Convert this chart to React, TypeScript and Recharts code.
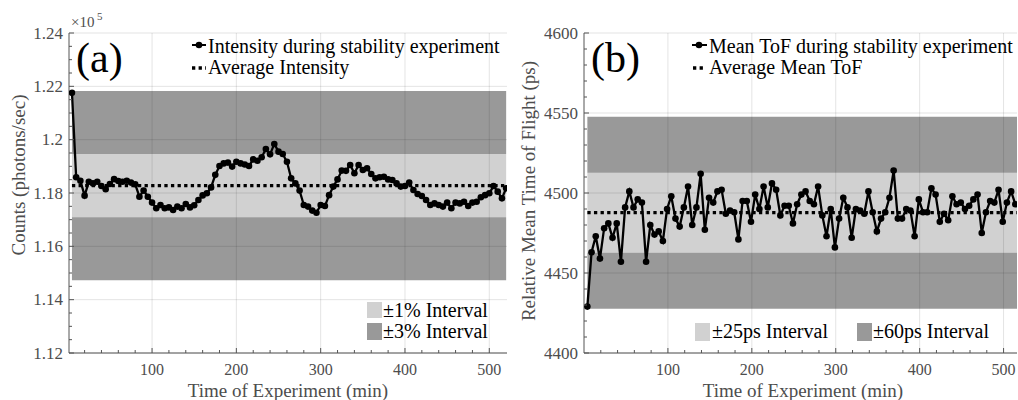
import React from 'react'
import { LineChart, Line, XAxis, YAxis, CartesianGrid, ReferenceArea, ReferenceLine } from 'recharts'

const SERIF = 'Liberation Serif, DejaVu Serif, serif'
const AXIS = '#555'
const LABEL = '#4d4d4d'
const DARK_BAND = 0.4
const LIGHT_BAND = 0.18

// (a) intensity, counts per second, one sample every 5 min
const intensityMinutes = [
  5, 10, 15, 20, 25, 30, 35, 40, 45, 50, 55, 60, 65, 70, 75, 80, 85, 90, 95, 100,
  105, 110, 115, 120, 125, 130, 135, 140, 145, 150, 155, 160, 165, 170, 175, 180, 185, 190, 195, 200,
  205, 210, 215, 220, 225, 230, 235, 240, 245, 250, 255, 260, 265, 270, 275, 280, 285, 290, 295, 300,
  305, 310, 315, 320, 325, 330, 335, 340, 345, 350, 355, 360, 365, 370, 375, 380, 385, 390, 395, 400,
  405, 410, 415, 420, 425, 430, 435, 440, 445, 450, 455, 460, 465, 470, 475, 480, 485, 490, 495, 500,
  505, 510, 515, 520,
]
const intensityCounts = [
  121760, 118590, 118460, 117900, 118420, 118360, 118420, 118260, 118140, 118340,
  118520, 118450, 118420, 118460, 118390, 118330, 117860, 118090, 117860, 117640,
  117430, 117550, 117430, 117460, 117360, 117490, 117430, 117590, 117460, 117540,
  117740, 117910, 117990, 118210, 118680, 119010, 119110, 119140, 118990, 119170,
  119110, 119070, 119010, 119260, 119210, 119340, 119650, 119450, 119840, 119550,
  119460, 119170, 118550, 118360, 118090, 117550, 117490, 117340, 117260, 117550,
  117510, 117920, 118240, 118510, 118840, 118830, 119050, 118740, 119050, 118860,
  118930, 118710, 118550, 118590, 118610, 118510, 118490, 118360, 118240, 118260,
  118390, 118110, 117960, 117890, 117740, 117550, 117610, 117550, 117490, 117640,
  117430, 117640, 117610, 117670, 117510, 117640, 117670, 117840, 117920, 117990,
  118260, 118050, 117800, 118180,
]
const intensityAverage = 118275
const intensityOnePct = [117092, 119458]
const intensityThreePct = [114727, 121823]

// (b) mean time of flight, ps
const tofMinutes = [
  4, 9, 14, 19, 24, 29, 34, 39, 44, 49, 54, 59, 64, 69, 74, 79, 84, 89, 94, 99,
  104, 109, 114, 119, 124, 129, 134, 139, 144, 149, 154, 159, 164, 169, 174, 179, 184, 189, 194, 199,
  204, 209, 214, 219, 224, 229, 234, 239, 244, 249, 254, 259, 264, 269, 274, 279, 284, 289, 294, 299,
  304, 309, 314, 319, 324, 329, 334, 339, 344, 349, 354, 359, 364, 369, 374, 379, 384, 389, 394, 399,
  404, 409, 414, 419, 424, 429, 434, 439, 444, 449, 454, 459, 464, 469, 474, 479, 484, 489, 494, 499,
  504, 509, 514,
]
const tofValues = [
  4429, 4463, 4473, 4459, 4478, 4481, 4472, 4481, 4457, 4491,
  4501, 4491, 4496, 4494, 4457, 4480, 4474, 4476, 4470, 4490,
  4498, 4484, 4479, 4491, 4504, 4480, 4491, 4512, 4477, 4497,
  4494, 4501, 4502, 4487, 4489, 4488, 4471, 4495, 4495, 4482,
  4499, 4490, 4504, 4491, 4506, 4502, 4486, 4492, 4492, 4481,
  4493, 4499, 4501, 4495, 4493, 4504, 4486, 4473, 4490, 4466,
  4484, 4497, 4491, 4472, 4490, 4489, 4487, 4501, 4488, 4476,
  4484, 4488, 4497, 4514, 4484, 4484, 4490, 4489, 4473, 4496,
  4488, 4488, 4503, 4499, 4482, 4487, 4483, 4498, 4493, 4494,
  4490, 4492, 4496, 4499, 4475, 4488, 4495, 4494, 4502, 4482,
  4494, 4501, 4493,
]
const tofAverage = 4487.7
const tof25 = [4462.7, 4512.7]
const tof60 = [4427.7, 4547.7]

// axis ticks
const timeTicks = [20, 40, 60, 80, 100, 120, 140, 160, 180, 200, 220, 240, 260, 280, 300, 320, 340, 360, 380, 400, 420, 440, 460, 480, 500]
const timeMajor = [100, 200, 300, 400, 500]
const countTicks = [
  112000, 112500, 113000, 113500, 114000, 114500, 115000, 115500, 116000, 116500, 117000, 117500, 118000,
  118500, 119000, 119500, 120000, 120500, 121000, 121500, 122000, 122500, 123000, 123500, 124000,
]
const countMajor = [112000, 114000, 116000, 118000, 120000, 122000, 124000]
const tofTicks = [
  4400, 4410, 4420, 4430, 4440, 4450, 4460, 4470, 4480, 4490, 4500,
  4510, 4520, 4530, 4540, 4550, 4560, 4570, 4580, 4590, 4600,
]
const tofMajor = [4400, 4450, 4500, 4550, 4600]

const intensityData = intensityMinutes.map((t, i) => ({ t, v: intensityCounts[i] }))
const tofData = tofMinutes.map((t, i) => ({ t, v: tofValues[i] }))

type Side = 'bottom' | 'top' | 'left' | 'right'

function axisTick(side: Side, majors: number[], fmt?: (v: number) => string) {
  return (props: any) => {
    const { x, y, payload } = props
    const v = payload.value
    const major = majors.includes(v)
    const len = major ? 5 : 3
    let x2 = x
    let y2 = y
    if (side === 'bottom') y2 = y - len
    if (side === 'top') y2 = y + len
    if (side === 'left') x2 = x + len
    if (side === 'right') x2 = x - len
    return (
      <g>
        <line x1={x} y1={y} x2={x2} y2={y2} stroke={AXIS} strokeWidth={1} />
        {major && fmt && side === 'bottom' && (
          <text x={x} y={y + 22} textAnchor="middle" fontFamily={SERIF} fontSize={16} fill={LABEL}>{fmt(v)}</text>
        )}
        {major && fmt && side === 'left' && (
          <text x={x - 6} y={y + 5.5} textAnchor="end" fontFamily={SERIF} fontSize={17} fill={LABEL}>{fmt(v)}</text>
        )}
      </g>
    )
  }
}

function Panel(props: {
  data: { t: number; v: number }[]
  width: number
  yWidth: number
  right: number
  xDomain: [number, number]
  yDomain: [number, number]
  yTicks: number[]
  yMajor: number[]
  yFmt: (v: number) => string
  first: number
  last: number
  avg: number
  inner: number[]
  outer: number[]
}) {
  const { data, xDomain, yDomain, first, last, avg, inner, outer } = props
  const common = { type: 'number' as const, allowDataOverflow: true, interval: 0 as const, tickSize: 0, tickMargin: 0, tickLine: false, axisLine: { stroke: AXIS, strokeWidth: 1 } }
  return (
    <LineChart width={props.width} height={400} data={data} margin={{ top: 33, right: props.right, bottom: 0, left: 0 }}>
      <CartesianGrid stroke="rgba(0,0,0,0.11)" verticalValues={timeMajor} horizontalValues={props.yMajor} />
      <XAxis {...common} dataKey="t" domain={xDomain} ticks={timeTicks} height={47} tick={axisTick('bottom', timeMajor, (v) => String(v))} />
      <XAxis {...common} xAxisId="top" orientation="top" domain={xDomain} ticks={timeTicks} height={0} tick={axisTick('top', timeMajor)} />
      <YAxis {...common} domain={yDomain} ticks={props.yTicks} width={props.yWidth} tick={axisTick('left', props.yMajor, props.yFmt)} />
      <YAxis {...common} yAxisId="right" orientation="right" domain={yDomain} ticks={props.yTicks} width={0} tick={axisTick('right', props.yMajor)} />
      <ReferenceArea x1={first} x2={last} y1={inner[1]} y2={outer[1]} fill="#000" fillOpacity={DARK_BAND} stroke="none" />
      <ReferenceArea x1={first} x2={last} y1={inner[0]} y2={inner[1]} fill="#000" fillOpacity={LIGHT_BAND} stroke="none" />
      <ReferenceArea x1={first} x2={last} y1={outer[0]} y2={inner[0]} fill="#000" fillOpacity={DARK_BAND} stroke="none" />
      <ReferenceLine segment={[{ x: first, y: avg }, { x: last, y: avg }]} stroke="#000" strokeWidth={3.3} strokeDasharray="3.3 3.3" />
      <Line dataKey="v" stroke="#000" strokeWidth={2.3} dot={{ r: 3.3, fill: '#000', stroke: '#000', strokeWidth: 0 }} activeDot={false} isAnimationActive={false} />
    </LineChart>
  )
}

const legendText = { fontFamily: SERIF, fontSize: 20, fill: '#000' }
const titleText = { fontFamily: SERIF, fontSize: 19, fill: LABEL }

function Annotations() {
  return (
    <svg width={1018} height={400} style={{ position: 'absolute', left: 0, top: 0, pointerEvents: 'none' }}>
      {/* panel (a) */}
      <text x={76} y={72} fontFamily={SERIF} fontSize={42} fill="#000">(a)</text>
      <text x={71} y={27} fontFamily={SERIF} fontSize={15} fill={LABEL}>×10</text>
      <text x={97} y={20} fontFamily={SERIF} fontSize={11} fill={LABEL}>5</text>
      <line x1={192} y1={45} x2={206} y2={45} stroke="#000" strokeWidth={2} />
      <circle cx={199} cy={45} r={3.3} fill="#000" />
      <text x={208} y={53} {...legendText}>Intensity during stability experiment</text>
      <line x1={192} y1={68} x2={206} y2={68} stroke="#000" strokeWidth={3.3} strokeDasharray="3.3 3.3" />
      <text x={208} y={74} {...legendText}>Average Intensity</text>
      <rect x={367} y={302} width={15} height={16} fill="#d1d1d1" />
      <text x={383} y={317} {...legendText}>±1% Interval</text>
      <rect x={367} y={323} width={15} height={17} fill="#999" />
      <text x={383} y={338} {...legendText}>±3% Interval</text>
      <text x={288} y={397} textAnchor="middle" {...titleText}>Time of Experiment (min)</text>
      <text x={25} y={175} textAnchor="middle" transform="rotate(-90 25 175)" {...titleText}>Counts (photons/sec)</text>

      {/* panel (b) */}
      <text x={591} y={72} fontFamily={SERIF} fontSize={42} fill="#000">(b)</text>
      <line x1={692} y1={45} x2={707} y2={45} stroke="#000" strokeWidth={2} />
      <circle cx={699} cy={45} r={3.3} fill="#000" />
      <text x={709} y={53} {...legendText}>Mean ToF during stability experiment</text>
      <line x1={693} y1={68} x2={706} y2={68} stroke="#000" strokeWidth={3.3} strokeDasharray="3.3 3.3" />
      <text x={709} y={74} {...legendText}>Average Mean ToF</text>
      <rect x={695} y={323} width={15} height={18} fill="#d1d1d1" />
      <text x={712} y={338} {...legendText}>±25ps Interval</text>
      <rect x={857} y={323} width={15} height={18} fill="#999" />
      <text x={873} y={338} {...legendText}>±60ps Interval</text>
      <text x={803} y={397} textAnchor="middle" {...titleText}>Time of Experiment (min)</text>
      <text x={535} y={191} textAnchor="middle" transform="rotate(-90 535 191)" {...titleText}>Relative Mean Time of Flight (ps)</text>
    </svg>
  )
}

export default function App() {
  return (
    <div style={{ position: 'absolute', left: 0, top: 0, width: 1018, height: 400, background: '#fff', overflow: 'hidden' }}>
      <div style={{ position: 'absolute', left: 0, top: 0 }}>
        <Panel
          data={intensityData}
          width={510}
          yWidth={69}
          right={3}
          xDomain={[1.5, 521]}
          yDomain={[112000, 124000]}
          yTicks={countTicks}
          yMajor={countMajor}
          yFmt={(v) => String(v / 1e5)}
          first={intensityMinutes[0]}
          last={intensityMinutes[intensityMinutes.length - 1]}
          avg={intensityAverage}
          inner={intensityOnePct}
          outer={intensityThreePct}
        />
      </div>
      <div style={{ position: 'absolute', left: 510, top: 0 }}>
        <Panel
          data={tofData}
          width={508}
          yWidth={74}
          right={1}
          xDomain={[0, 516]}
          yDomain={[4400, 4600]}
          yTicks={tofTicks}
          yMajor={tofMajor}
          yFmt={(v) => String(v)}
          first={tofMinutes[0]}
          last={516}
          avg={tofAverage}
          inner={tof25}
          outer={tof60}
        />
      </div>
      <Annotations />
    </div>
  )
}
